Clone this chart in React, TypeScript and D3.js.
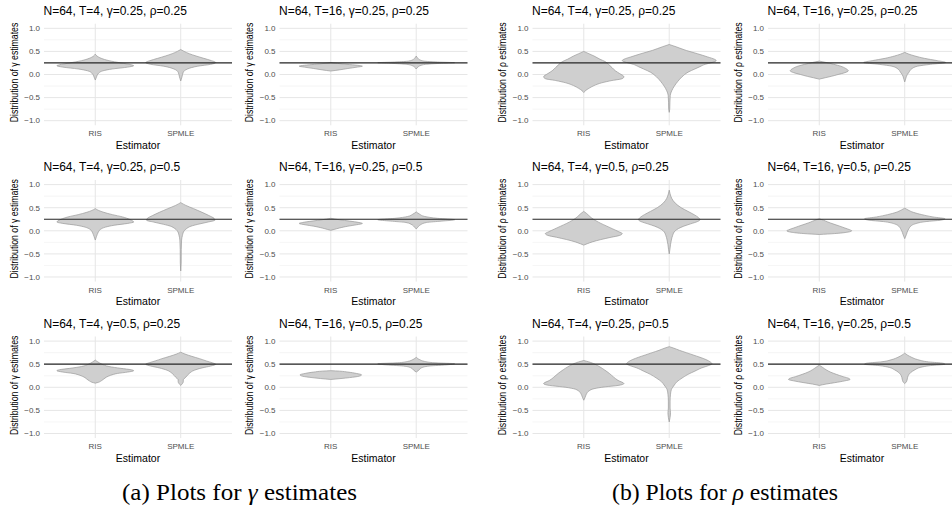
import * as d3 from "d3";
import React, { useEffect, useRef } from "react";

// categories on the x axis of every panel
const estimators = ["RIS", "SPMLE"];
const majorTicks = [1, 0.5, 0, -0.5, -1];
const minorTicks = [0.75, 0.25, -0.25, -0.75];

// panels in reading order (row by row, left to right)
const panelTitles = [
  "N=64, T=4, γ=0.25, ρ=0.25",
  "N=64, T=16, γ=0.25, ρ=0.25",
  "N=64, T=4, γ=0.25, ρ=0.25",
  "N=64, T=16, γ=0.25, ρ=0.25",
  "N=64, T=4, γ=0.25, ρ=0.5",
  "N=64, T=16, γ=0.25, ρ=0.5",
  "N=64, T=4, γ=0.5, ρ=0.25",
  "N=64, T=16, γ=0.5, ρ=0.25",
  "N=64, T=4, γ=0.5, ρ=0.25",
  "N=64, T=16, γ=0.5, ρ=0.25",
  "N=64, T=4, γ=0.25, ρ=0.5",
  "N=64, T=16, γ=0.25, ρ=0.5",
];
const panelParams = ["γ", "γ", "ρ", "ρ", "γ", "γ", "ρ", "ρ", "γ", "γ", "ρ", "ρ"];
const trueValues = [0.25, 0.25, 0.25, 0.25, 0.25, 0.25, 0.25, 0.25, 0.5, 0.5, 0.5, 0.5];

// violin outlines: [estimate, half width in category steps]
const risViolins: [number, number][][] = [
  [[0.44, 0], [0.4, 0.02], [0.35, 0.07], [0.3, 0.16], [0.25, 0.3], [0.21, 0.42], [0.19, 0.45], [0.16, 0.38], [0.12, 0.2], [0.08, 0.09], [0.03, 0.04], [-0.05, 0.015], [-0.12, 0]],
  [[0.26, 0], [0.24, 0.08], [0.22, 0.19], [0.2, 0.31], [0.18, 0.37], [0.16, 0.31], [0.13, 0.2], [0.1, 0.1], [0.075, 0]],
  [[0.5, 0], [0.45, 0.06], [0.4, 0.12], [0.33, 0.19], [0.28, 0.25], [0.22, 0.29], [0.15, 0.33], [0.08, 0.37], [0.02, 0.42], [-0.05, 0.47], [-0.09, 0.45], [-0.13, 0.33], [-0.18, 0.21], [-0.24, 0.12], [-0.3, 0.06], [-0.35, 0.02], [-0.39, 0]],
  [[0.29, 0], [0.26, 0.08], [0.22, 0.17], [0.18, 0.25], [0.13, 0.31], [0.08, 0.34], [0.04, 0.3], [0, 0.22], [-0.04, 0.14], [-0.07, 0.07], [-0.1, 0]],
  [[0.48, 0], [0.44, 0.04], [0.4, 0.1], [0.35, 0.2], [0.3, 0.32], [0.25, 0.4], [0.21, 0.44], [0.19, 0.45], [0.16, 0.38], [0.12, 0.22], [0.08, 0.12], [0.03, 0.06], [-0.05, 0.03], [-0.12, 0.015], [-0.2, 0]],
  [[0.27, 0], [0.24, 0.1], [0.21, 0.22], [0.18, 0.33], [0.16, 0.37], [0.13, 0.3], [0.1, 0.2], [0.06, 0.1], [0.03, 0.04], [0.01, 0]],
  [[0.42, 0], [0.38, 0.03], [0.33, 0.06], [0.28, 0.09], [0.22, 0.14], [0.16, 0.2], [0.1, 0.27], [0.04, 0.34], [-0.02, 0.41], [-0.06, 0.45], [-0.1, 0.42], [-0.14, 0.32], [-0.19, 0.2], [-0.24, 0.1], [-0.28, 0.04], [-0.31, 0]],
  [[0.26, 0], [0.23, 0.05], [0.19, 0.1], [0.15, 0.16], [0.1, 0.24], [0.06, 0.3], [0.02, 0.36], [0, 0.38], [-0.03, 0.33], [-0.06, 0.18], [-0.08, 0]],
  [[0.59, 0], [0.55, 0.03], [0.5, 0.08], [0.45, 0.16], [0.41, 0.3], [0.38, 0.42], [0.36, 0.45], [0.33, 0.38], [0.3, 0.26], [0.26, 0.18], [0.22, 0.13], [0.18, 0.1], [0.14, 0.07], [0.11, 0.04], [0.09, 0]],
  [[0.36, 0], [0.35, 0.1], [0.33, 0.2], [0.3, 0.3], [0.27, 0.36], [0.24, 0.33], [0.21, 0.22], [0.19, 0.12], [0.17, 0]],
  [[0.58, 0], [0.55, 0.06], [0.5, 0.13], [0.44, 0.19], [0.38, 0.24], [0.3, 0.3], [0.22, 0.35], [0.15, 0.4], [0.08, 0.47], [0.04, 0.4], [0.01, 0.25], [-0.03, 0.12], [-0.08, 0.06], [-0.15, 0.03], [-0.22, 0.015], [-0.28, 0]],
  [[0.48, 0], [0.43, 0.04], [0.38, 0.08], [0.33, 0.13], [0.28, 0.2], [0.23, 0.28], [0.19, 0.35], [0.17, 0.36], [0.14, 0.3], [0.1, 0.18], [0.07, 0.08], [0.04, 0]],
];

const spmleViolins: [number, number][][] = [
  [[0.54, 0], [0.5, 0.04], [0.45, 0.1], [0.4, 0.18], [0.35, 0.27], [0.3, 0.36], [0.26, 0.41], [0.22, 0.35], [0.18, 0.2], [0.12, 0.08], [0.05, 0.03], [-0.05, 0.015], [-0.14, 0]],
  [[0.4, 0], [0.36, 0.015], [0.32, 0.04], [0.29, 0.09], [0.27, 0.25], [0.255, 0.45], [0.24, 0.27], [0.22, 0.11], [0.19, 0.045], [0.16, 0.02], [0.12, 0]],
  [[0.65, 0], [0.6, 0.08], [0.52, 0.2], [0.45, 0.33], [0.38, 0.45], [0.33, 0.53], [0.3, 0.55], [0.26, 0.5], [0.22, 0.42], [0.17, 0.36], [0.12, 0.3], [0.05, 0.22], [-0.05, 0.15], [-0.15, 0.1], [-0.25, 0.06], [-0.35, 0.03], [-0.45, 0.012], [-0.6, 0.008], [-0.75, 0.006], [-0.82, 0]],
  [[0.48, 0], [0.44, 0.05], [0.4, 0.12], [0.35, 0.23], [0.3, 0.38], [0.26, 0.48], [0.22, 0.3], [0.18, 0.15], [0.12, 0.08], [0.05, 0.05], [0, 0.03], [-0.1, 0.01], [-0.16, 0]],
  [[0.61, 0], [0.55, 0.06], [0.48, 0.15], [0.4, 0.25], [0.33, 0.33], [0.27, 0.39], [0.23, 0.4], [0.19, 0.32], [0.14, 0.2], [0.1, 0.12], [0.05, 0.07], [0, 0.04], [-0.1, 0.02], [-0.2, 0.01], [-0.4, 0.006], [-0.7, 0.005], [-0.87, 0]],
  [[0.41, 0], [0.36, 0.04], [0.31, 0.1], [0.27, 0.25], [0.24, 0.45], [0.21, 0.3], [0.18, 0.12], [0.13, 0.05], [0.08, 0.02], [0.04, 0]],
  [[0.88, 0], [0.8, 0.01], [0.7, 0.03], [0.6, 0.07], [0.5, 0.14], [0.42, 0.22], [0.35, 0.29], [0.29, 0.34], [0.24, 0.36], [0.2, 0.33], [0.15, 0.25], [0.1, 0.17], [0.05, 0.11], [0, 0.07], [-0.1, 0.04], [-0.2, 0.025], [-0.3, 0.015], [-0.4, 0.008], [-0.5, 0]],
  [[0.49, 0], [0.45, 0.04], [0.4, 0.1], [0.35, 0.2], [0.3, 0.33], [0.26, 0.47], [0.23, 0.42], [0.2, 0.25], [0.15, 0.12], [0.1, 0.07], [0.05, 0.05], [0, 0.035], [-0.08, 0.02], [-0.17, 0]],
  [[0.76, 0], [0.72, 0.05], [0.67, 0.13], [0.62, 0.22], [0.57, 0.3], [0.53, 0.37], [0.5, 0.41], [0.46, 0.35], [0.42, 0.25], [0.37, 0.16], [0.3, 0.1], [0.22, 0.06], [0.16, 0.03], [0.12, 0.03], [0.08, 0.02], [0.04, 0]],
  [[0.65, 0], [0.6, 0.04], [0.56, 0.1], [0.53, 0.22], [0.51, 0.45], [0.49, 0.38], [0.46, 0.15], [0.42, 0.06], [0.37, 0.03], [0.33, 0]],
  [[0.88, 0], [0.85, 0.05], [0.8, 0.12], [0.75, 0.2], [0.7, 0.28], [0.65, 0.36], [0.6, 0.43], [0.55, 0.48], [0.51, 0.5], [0.47, 0.46], [0.42, 0.38], [0.35, 0.3], [0.28, 0.22], [0.2, 0.15], [0.12, 0.09], [0.05, 0.06], [0, 0.04], [-0.05, 0.025], [-0.15, 0.015], [-0.3, 0.01], [-0.45, 0.01], [-0.55, 0.015], [-0.65, 0.01], [-0.75, 0]],
  [[0.74, 0], [0.7, 0.03], [0.65, 0.08], [0.6, 0.15], [0.55, 0.28], [0.52, 0.45], [0.5, 0.47], [0.47, 0.3], [0.43, 0.18], [0.38, 0.12], [0.32, 0.07], [0.25, 0.04], [0.18, 0.03], [0.12, 0.02], [0.08, 0]],
];

const captions = [
  { label: "(a) Plots for ", symbol: "γ" },
  { label: "(b) Plots for ", symbol: "ρ" },
];

const App: React.FC = () => {
  const chartRef = useRef<HTMLDivElement>(null);

  useEffect(() => {
    if (!chartRef.current) return;
    d3.select(chartRef.current).selectAll("*").remove();

    const width = 952,
      height = 515;
    const colLefts = [44, 279.5, 532.5, 768];
    const rowTops = [23.7, 180, 336.5];
    const plotW = 188,
      plotH = 101.6;
    const sans = "'Liberation Sans', Arial, sans-serif";

    const svg = d3
      .select(chartRef.current)
      .append("svg")
      .attr("width", width)
      .attr("height", height)
      .style("display", "block")
      .style("background", "#fff");

    panelTitles.forEach((title, i) => {
      const left = colLefts[i % 4];
      const top = rowTops[Math.floor(i / 4)];

      const x = d3
        .scaleBand()
        .domain(estimators)
        .range([left, left + plotW])
        .paddingInner(0)
        .paddingOuter(0.1);
      const y = d3.scaleLinear().domain([-1.1, 1.1]).range([top + plotH, top]);
      const step = x.step();

      const g = svg.append("g");

      // grid
      g.selectAll(".minor")
        .data(minorTicks)
        .enter()
        .append("line")
        .attr("x1", left)
        .attr("x2", left + plotW)
        .attr("y1", (d) => y(d))
        .attr("y2", (d) => y(d))
        .attr("stroke", "#f0f0f0")
        .attr("stroke-width", 0.7);
      g.selectAll(".major")
        .data(majorTicks)
        .enter()
        .append("line")
        .attr("x1", left)
        .attr("x2", left + plotW)
        .attr("y1", (d) => y(d))
        .attr("y2", (d) => y(d))
        .attr("stroke", "#e6e6e6")
        .attr("stroke-width", 1);
      g.selectAll(".vgrid")
        .data(estimators)
        .enter()
        .append("line")
        .attr("x1", (d) => x(d)! + step / 2)
        .attr("x2", (d) => x(d)! + step / 2)
        .attr("y1", top)
        .attr("y2", top + plotH)
        .attr("stroke", "#e6e6e6")
        .attr("stroke-width", 1);

      // violins
      const profiles = [risViolins[i], spmleViolins[i]];
      estimators.forEach((est, k) => {
        const cx = x(est)! + step / 2;
        const pts = [...profiles[k]].sort((a, b) => b[0] - a[0]);
        const area = d3
          .area<[number, number]>()
          .y((d) => y(d[0]))
          .x0((d) => cx - d[1] * step)
          .x1((d) => cx + d[1] * step)
          .curve(d3.curveMonotoneY);
        g.append("path")
          .attr("d", area(pts)!)
          .attr("fill", "#cfcfcf")
          .attr("stroke", "#9a9a9a")
          .attr("stroke-width", 0.7);
      });

      // true value line
      g.append("line")
        .attr("x1", left)
        .attr("x2", left + plotW)
        .attr("y1", y(trueValues[i]))
        .attr("y2", y(trueValues[i]))
        .attr("stroke", "#262626")
        .attr("stroke-width", 1.2);

      // y tick labels
      g.selectAll(".ytick")
        .data(majorTicks)
        .enter()
        .append("text")
        .attr("x", left - 4)
        .attr("y", (d) => y(d))
        .attr("dy", "0.35em")
        .attr("text-anchor", "end")
        .style("font-family", sans)
        .style("font-size", "8px")
        .style("fill", "#4d4d4d")
        .text((d) => d3.format(".1f")(d).replace("-", "\u2212"));

      // x tick labels
      g.selectAll(".xtick")
        .data(estimators)
        .enter()
        .append("text")
        .attr("x", (d) => x(d)! + step / 2)
        .attr("y", top + plotH + 11)
        .attr("text-anchor", "middle")
        .style("font-family", sans)
        .style("font-size", "8px")
        .style("fill", "#4d4d4d")
        .text((d) => d);

      // axis titles
      g.append("text")
        .attr("x", left + plotW / 2)
        .attr("y", top + plotH + 23.5)
        .attr("text-anchor", "middle")
        .style("font-family", sans)
        .style("font-size", "10.5px")
        .style("fill", "#000")
        .text("Estimator");

      // the source figure is squeezed vertically, so the rotated title is shortened
      g.append("text")
        .attr("transform", `translate(${left - 26.5},${top + plotH / 2 - 2}) rotate(-90) scale(0.83,1)`)
        .attr("text-anchor", "middle")
        .style("font-family", sans)
        .style("font-size", "10.5px")
        .style("fill", "#000")
        .text(`Distribution of ${panelParams[i]} estimates`);

      // panel title
      g.append("text")
        .attr("x", left - 0.5)
        .attr("y", top - 9)
        .style("font-family", sans)
        .style("font-size", "12px")
        .style("fill", "#000")
        .text(title);
    });

    // sub-figure captions
    const capCenters = [239.5, 725];
    const capLengths = [235, 226];
    captions.forEach((c, j) => {
      const t = svg
        .append("text")
        .attr("x", capCenters[j])
        .attr("y", 500)
        .attr("text-anchor", "middle")
        .attr("textLength", capLengths[j])
        .attr("lengthAdjust", "spacingAndGlyphs")
        .style("font-family", "'Liberation Serif', 'DejaVu Serif', serif")
        .style("font-size", "23.5px")
        .style("fill", "#000");
      t.append("tspan").text(c.label);
      t.append("tspan").style("font-style", "italic").text(c.symbol);
      t.append("tspan").text(" estimates");
    });
  }, []);

  return <div ref={chartRef} style={{ position: "absolute", left: 0, top: 0 }}></div>;
};

export default App;
